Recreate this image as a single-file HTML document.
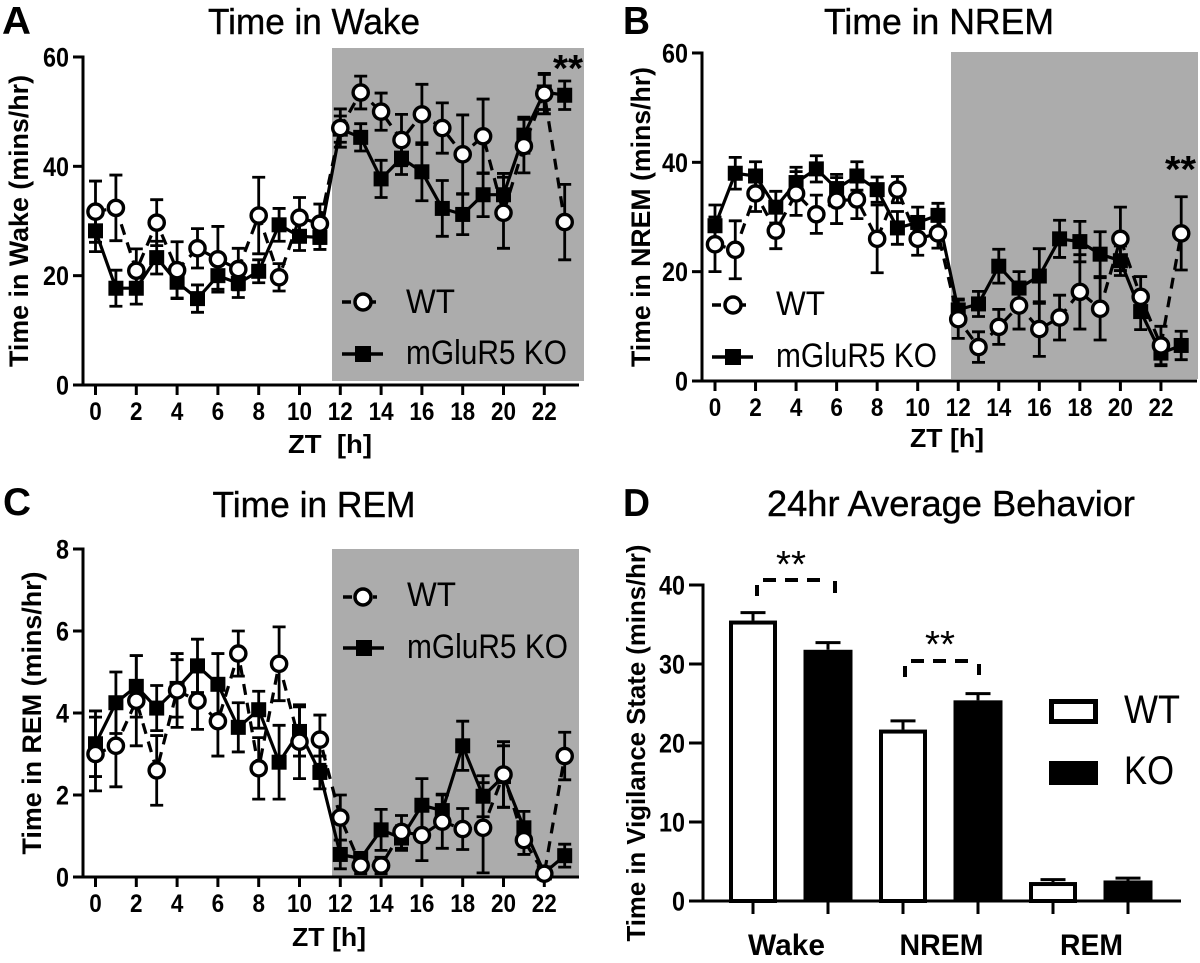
<!DOCTYPE html>
<html lang="en">
<head>
<meta charset="utf-8">
<title>Sleep-wake behavior in WT and mGluR5 KO</title>
<style>
html,body{margin:0;padding:0;background:#fff;}
svg{display:block;font-family:"Liberation Sans",sans-serif;}
.letter{font-size:39px;font-weight:bold;}
.title{font-size:36px;text-anchor:middle;stroke:#000;stroke-width:.4px;}
.ylab{font-size:27px;font-weight:bold;text-anchor:middle;}
.xlab{font-size:26px;font-weight:bold;text-anchor:middle;}
.legend{font-size:34px;}
.stars{font-size:38px;font-weight:bold;}
.ytick{font-size:27px;font-weight:bold;text-anchor:end;}
.xtick{font-size:25px;font-weight:bold;text-anchor:middle;}
.cat{font-size:30px;font-weight:bold;text-anchor:middle;}
</style>
</head>
<body>
<svg id="fig" xmlns="http://www.w3.org/2000/svg" width="1200" height="963" viewBox="0 0 1200 963">
  <rect x="332" y="48" width="252" height="333" fill="#acacac"/>
  <rect x="951" y="52" width="247" height="327" fill="#acacac"/>
  <rect x="332" y="549" width="247" height="328" fill="#acacac"/>

  <g id="panelA"></g>
  <g id="panelB"></g>
  <g id="panelC"></g>
  <g id="panelD"></g>

  <text class="letter" x="2" y="34" textLength="29" lengthAdjust="spacingAndGlyphs">A</text>
  <text class="letter" x="623" y="34" textLength="27" lengthAdjust="spacingAndGlyphs">B</text>
  <text class="letter" x="3" y="515" textLength="28" lengthAdjust="spacingAndGlyphs">C</text>
  <text class="letter" x="623" y="516" textLength="27" lengthAdjust="spacingAndGlyphs">D</text>

  <text class="title" x="314" y="34" textLength="212" lengthAdjust="spacingAndGlyphs">Time in Wake</text>
  <text class="title" x="939" y="34" textLength="230" lengthAdjust="spacingAndGlyphs">Time in NREM</text>
  <text class="title" x="314" y="517" textLength="203" lengthAdjust="spacingAndGlyphs">Time in REM</text>
  <text class="title" x="951" y="516" textLength="368" lengthAdjust="spacingAndGlyphs">24hr Average Behavior</text>

  <text class="ylab" transform="translate(28 221) rotate(-90)" textLength="292" lengthAdjust="spacingAndGlyphs">Time in Wake (mins/hr)</text>
  <text class="ylab" transform="translate(650 217) rotate(-90)" textLength="300" lengthAdjust="spacingAndGlyphs">Time in NREM (mins/hr)</text>
  <text class="ylab" transform="translate(41 713) rotate(-90)" textLength="283" lengthAdjust="spacingAndGlyphs">Time in REM (mins/hr)</text>
  <text class="ylab" transform="translate(645 743) rotate(-90)" textLength="397" lengthAdjust="spacingAndGlyphs" style="font-size:26px">Time in Vigilance State (mins/hr)</text>

  <text class="xlab" x="330" y="453" xml:space="preserve" textLength="84" lengthAdjust="spacingAndGlyphs">ZT  [h]</text>
  <text class="xlab" x="947" y="447" textLength="74" lengthAdjust="spacingAndGlyphs">ZT [h]</text>
  <text class="xlab" x="329" y="946" textLength="74" lengthAdjust="spacingAndGlyphs">ZT [h]</text>

  <g>
    <line x1="342" x2="382" y1="302" y2="302" stroke="#000" stroke-width="3.5" stroke-dasharray="9 21 4 10"/>
    <circle cx="363" cy="302" r="8" fill="#fff" stroke="#000" stroke-width="3.5"/>
    <text class="legend" x="406" y="313" textLength="49" lengthAdjust="spacingAndGlyphs">WT</text>
    <line x1="342" x2="383" y1="354" y2="354" stroke="#000" stroke-width="3.5"/>
    <rect x="355" y="346" width="16" height="16" fill="#000"/>
    <text class="legend" x="406" y="364" textLength="161" lengthAdjust="spacingAndGlyphs">mGluR5 KO</text>
  </g>
  <g>
    <line x1="712" x2="753" y1="305" y2="305" stroke="#000" stroke-width="3.5" stroke-dasharray="9 21 4 10"/>
    <circle cx="733" cy="305" r="8" fill="#fff" stroke="#000" stroke-width="3.5"/>
    <text class="legend" x="776" y="315" textLength="49" lengthAdjust="spacingAndGlyphs">WT</text>
    <line x1="712" x2="753" y1="357" y2="357" stroke="#000" stroke-width="3.5"/>
    <rect x="725" y="349" width="16" height="16" fill="#000"/>
    <text class="legend" x="776" y="367" textLength="161" lengthAdjust="spacingAndGlyphs">mGluR5 KO</text>
  </g>
  <g>
    <line x1="343" x2="384" y1="597" y2="597" stroke="#000" stroke-width="3.5" stroke-dasharray="9 21 4 10"/>
    <circle cx="363" cy="597" r="8" fill="#fff" stroke="#000" stroke-width="3.5"/>
    <text class="legend" x="407" y="606" textLength="49" lengthAdjust="spacingAndGlyphs">WT</text>
    <line x1="343" x2="384" y1="648" y2="648" stroke="#000" stroke-width="3.5"/>
    <rect x="356" y="640" width="16" height="16" fill="#000"/>
    <text class="legend" x="407" y="658" textLength="161" lengthAdjust="spacingAndGlyphs">mGluR5 KO</text>
  </g>
  <g>
    <rect x="1051.5" y="701.5" width="44" height="20" fill="#fff" stroke="#000" stroke-width="5"/>
    <text x="1124" y="723" font-size="40" textLength="56" lengthAdjust="spacingAndGlyphs">WT</text>
    <rect x="1049" y="761" width="49" height="24" fill="#000"/>
    <text x="1124" y="784" font-size="40" textLength="50" lengthAdjust="spacingAndGlyphs">KO</text>
  </g>

  <text class="stars" x="553" y="81" textLength="30" lengthAdjust="spacingAndGlyphs">**</text>
  <text class="stars" x="1165" y="182" textLength="31" lengthAdjust="spacingAndGlyphs">**</text>
  <text class="stars" x="776" y="577" style="font-weight:normal" textLength="30" lengthAdjust="spacingAndGlyphs">**</text>
  <text class="stars" x="925" y="657" style="font-weight:normal" textLength="30" lengthAdjust="spacingAndGlyphs">**</text>

  <g stroke="#000" stroke-width="4" fill="none">
    <line x1="757" x2="757" y1="585" y2="596"/>
    <line x1="763" x2="825" y1="580" y2="580" stroke-dasharray="13 9"/>
    <line x1="835" x2="835" y1="581" y2="593"/>
  </g>
  <g stroke="#000" stroke-width="4" fill="none">
    <line x1="905" x2="905" y1="666" y2="677"/>
    <line x1="911" x2="975" y1="661" y2="661" stroke-dasharray="13 9"/>
    <line x1="979" x2="979" y1="664" y2="675"/>
  </g>
</svg>
<script>
var hourTicks = [0, 2, 4, 6, 8, 10, 12, 14, 16, 18, 20, 22];
var wakeTicks = [0, 20, 40, 60];
var nremTicks = [0, 20, 40, 60];
var remTicks = [0, 2, 4, 6, 8];
var avgTicks = [0, 10, 20, 30, 40];

var wakeWT = [31.7, 32.4, 20.9, 29.7, 21, 25, 23, 21.2, 31, 19.7, 30.6, 29.5, 47, 53.5, 50, 44.8, 49.5, 47, 42.2, 45.5, 31.5, 43.7, 53.3, 29.8];
var wakeWTerr = [5.6, 6, 4, 4.2, 5.2, 3.6, 6, 3.8, 7, 2.5, 3.7, 3.6, 3.5, 3, 3.4, 4.7, 5.5, 4.6, 7.2, 6.8, 6.5, 4.9, 3.7, 6.9];
var wakeKO = [28.2, 17.7, 17.7, 23.3, 18.8, 15.8, 20, 18.6, 20.8, 29.3, 27.2, 27, 46.8, 45.3, 37.7, 41.5, 39, 32.3, 31.2, 34.8, 34.8, 45.7, 53.6, 53];
var wakeKOerr = [3.8, 3.3, 2.9, 3, 2.9, 2.5, 2.5, 2.6, 2.1, 3, 2.6, 2.2, 2.4, 2.5, 3.4, 3, 5.3, 5.1, 3.7, 4, 3.9, 3.3, 3.2, 2.6];

var nremWT = [25, 24, 34.3, 27.5, 34.3, 30.5, 33, 33.2, 26, 35, 26, 27, 11.3, 6.2, 9.9, 13.8, 9.5, 11.6, 16.3, 13.2, 26, 15.4, 6.5, 27];
var nremWTerr = [5, 5.3, 3.3, 3.3, 4, 3.5, 4.2, 3.5, 6.2, 2.4, 3, 2.7, 3.5, 2.8, 3.2, 4.3, 5, 4.1, 6.8, 5.7, 5.8, 3.7, 3.5, 6.7];
var nremKO = [28.4, 38, 37.5, 31.8, 36.3, 38.8, 35.2, 37.5, 35, 28, 29, 30.3, 13, 14.1, 21, 17, 19.2, 26, 25.5, 23.2, 22, 12.7, 5.1, 6.5];
var nremKOerr = [3.8, 2.9, 2.6, 2.9, 2.8, 2.4, 2.6, 2.6, 2.3, 3, 2.8, 2.2, 2, 2.3, 3.1, 3, 5, 3.4, 3.7, 4.1, 2.7, 3.3, 2.3, 2.6];

var remWT = [3, 3.2, 4.3, 2.6, 4.55, 4.3, 3.8, 5.45, 2.65, 5.2, 3.3, 3.35, 1.45, 0.28, 0.28, 1.1, 1.02, 1.35, 1.17, 1.2, 2.5, 0.9, 0.08, 2.95];
var remWTerr = [0.9, 1, 1.1, 0.85, 0.9, 0.7, 0.85, 0.55, 0.75, 0.9, 0.9, 0.6, 0.55, 0.2, 0.2, 0.4, 0.62, 0.65, 0.5, 1.1, 0.8, 0.35, 0.1, 0.58];
var remKO = [3.25, 4.25, 4.65, 4.12, 4.6, 5.15, 4.7, 3.65, 4.08, 2.8, 3.55, 2.55, 0.55, 0.45, 1.15, 0.95, 1.75, 1.62, 3.2, 1.97, 2.45, 1.2, 0.1, 0.52];
var remKOerr = [0.8, 0.75, 0.75, 0.55, 0.7, 0.65, 0.75, 0.6, 0.45, 0.9, 0.6, 0.4, 0.35, 0.15, 0.5, 0.3, 0.65, 0.4, 0.6, 0.5, 0.75, 0.4, 0.1, 0.28];

var avgCategories = ['Wake', 'NREM', 'REM'];
var avgWT = [35.5, 21.7, 2.4];
var avgWTerr = [1, 1.1, 0.3];
var avgKO = [31.8, 25.4, 2.6];
var avgKOerr = [0.9, 0.85, 0.3];

var NS = 'http://www.w3.org/2000/svg';
function make(parent, tag, attrs, txt) {
  var el = document.createElementNS(NS, tag);
  for (var k in attrs) { el.setAttribute(k, attrs[k]); }
  
  if (txt !== undefined) { el.textContent = txt; }
  parent.appendChild(el);
  return el;
}

function drawAxes(g, o) {
  var el;
  el = make(g, 'line', {x1: o.axisX, x2: o.axisX, y1: o.y(o.yTicks[o.yTicks.length - 1]) - 1.5, y2: o.y(0) + 1.5, stroke: '#000', 'stroke-width': 3});
  
  el = make(g, 'line', {x1: o.axisX - o.tick, x2: o.xEnd, y1: o.y(0), y2: o.y(0), stroke: '#000', 'stroke-width': 3});
  
  o.yTicks.forEach(function (v) {
    var t = make(g, 'line', {x1: o.axisX - o.tick, x2: o.axisX, y1: o.y(v), y2: o.y(v), stroke: '#000', 'stroke-width': 3});
    
    var s = String(v);
    var l = make(g, 'text', {'class': 'ytick', x: o.axisX - o.tick - 4, y: o.y(v) + 9.5, textLength: s.length * 13, lengthAdjust: 'spacingAndGlyphs'}, s);
    
  });
}

function drawSeries(g, x, y, vals, errs, kind) {
  var el;
  var pts = vals.map(function (v, i) { return x(i).toFixed(1) + ',' + y(v).toFixed(1); }).join(' ');
  el = make(g, 'polyline', {points: pts, fill: 'none', stroke: '#000', 'stroke-width': 3.2, 'stroke-linejoin': 'round', 'stroke-dasharray': kind === 'wt' ? '11 8' : 'none'});
  
  vals.forEach(function (v, i) {
    var cx = x(i);
    var hi = y(v + errs[i]);
    var lo = y(Math.max(0, v - errs[i]));
    var bar = make(g, 'path', {d: 'M' + cx + ' ' + hi + 'V' + lo + 'M' + (cx - 6.5) + ' ' + hi + 'H' + (cx + 6.5) + 'M' + (cx - 6.5) + ' ' + lo + 'H' + (cx + 6.5), fill: 'none', stroke: '#000', 'stroke-width': 2.8});
    
  });
  vals.forEach(function (v, i) {
    var m;
    if (kind === 'wt') {
      m = make(g, 'circle', {cx: x(i), cy: y(v), r: 7.6, fill: '#fff', stroke: '#000', 'stroke-width': 3.4});
      
    } else {
      m = make(g, 'rect', {x: x(i) - 7.5, y: y(v) - 7.5, width: 15, height: 15, fill: '#000'});
      
    }
  });
}

function timePanel(id, x0, dx, axisX, xEnd, yZero, yPerUnit, yTicks, wt, wtErr, ko, koErr, tickBase) {
  var g = document.getElementById(id);
  var x = function (h) { return x0 + h * dx; };
  var y = function (v) { return yZero - v * yPerUnit; };
  drawAxes(g, {axisX: axisX, xEnd: xEnd, y: y, yTicks: yTicks, tick: 10});
  hourTicks.forEach(function (h) {
    var t = make(g, 'line', {x1: x(h), x2: x(h), y1: yZero, y2: yZero + 10, stroke: '#000', 'stroke-width': 3});
    
    var s = String(h);
    var l = make(g, 'text', {'class': 'xtick', x: x(h), y: tickBase, textLength: s.length * 12.5, lengthAdjust: 'spacingAndGlyphs'}, s);
    
  });
  drawSeries(g, x, y, ko, koErr, 'ko');
  drawSeries(g, x, y, wt, wtErr, 'wt');
}

timePanel('panelA', 95.5, 20.4, 83, 579, 385, 5.467, wakeTicks, wakeWT, wakeWTerr, wakeKO, wakeKOerr, 420);
timePanel('panelB', 715, 20.27, 702, 1197, 381, 5.467, nremTicks, nremWT, nremWTerr, nremKO, nremKOerr, 416);
timePanel('panelC', 95.5, 20.4, 83, 579, 877, 41, remTicks, remWT, remWTerr, remKO, remKOerr, 912);

(function () {
  var g = document.getElementById('panelD');
  var yZero = 901;
  var y = function (v) { return yZero - v * 7.9; };
  var xBar = function (cat, grp) { return 753 + (cat * 2 + grp) * 75; };
  var catWidths = {Wake: 77, NREM: 84, REM: 63};
  var catNudge = {Wake: -4, NREM: 1, REM: 1};
  avgCategories.forEach(function (name, c) {
    var lbl = make(g, 'text', {'class': 'cat', x: (xBar(c, 0) + xBar(c, 1)) / 2 + catNudge[name], y: 955, textLength: catWidths[name], lengthAdjust: 'spacingAndGlyphs'}, name);
    
    [[avgWT, avgWTerr, 'wt'], [avgKO, avgKOerr, 'ko']].forEach(function (s, grp) {
      var cx = xBar(c, grp);
      var top = y(s[0][c]);
      var hi = y(s[0][c] + s[1][c]);
      var err = make(g, 'path', {d: 'M' + cx + ' ' + top + 'V' + hi + 'M' + (cx - 12.5) + ' ' + hi + 'H' + (cx + 12.5), fill: 'none', stroke: '#000', 'stroke-width': 3});
      
      var bar;
      if (s[2] === 'wt') {
        bar = make(g, 'rect', {x: cx - 22, y: top + 2, width: 44, height: Math.max(0, yZero - top - 2), fill: '#fff', stroke: '#000', 'stroke-width': 4});
      } else {
        bar = make(g, 'rect', {x: cx - 24.5, y: top, width: 49, height: Math.max(0, yZero - top), fill: '#000'});
      }
      
      var t = make(g, 'line', {x1: cx, x2: cx, y1: yZero, y2: yZero + 13, stroke: '#000', 'stroke-width': 3});
      
    });
  });
  drawAxes(g, {axisX: 703, xEnd: 1181, y: y, yTicks: avgTicks, tick: 14});
})();
</script>
</body>
</html>
